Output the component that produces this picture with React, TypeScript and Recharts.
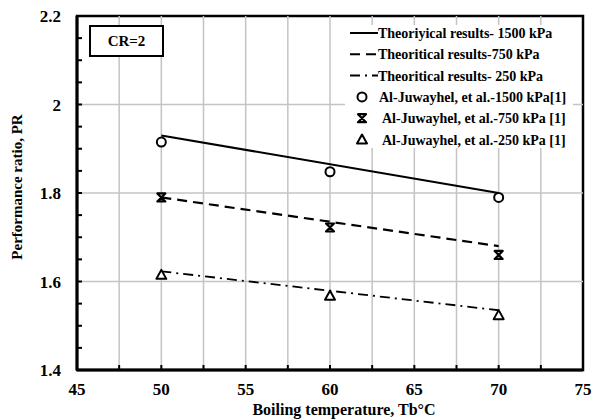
import React from "react";
import {
  ComposedChart,
  Line,
  Scatter,
  XAxis,
  YAxis,
  ReferenceLine,
  ReferenceArea,
  Label,
} from "recharts";

const FONT = '"Liberation Serif", "Times New Roman", serif';

// axis ticks (minor ticks carry no label)
const tempTicks = [45, 47.5, 50, 52.5, 55, 57.5, 60, 62.5, 65, 67.5, 70, 72.5, 75];
const prTicks = [
  1.4, 1.45, 1.5, 1.55, 1.6, 1.65, 1.7, 1.75, 1.8, 1.85, 1.9, 1.95, 2.0, 2.05, 2.1, 2.15, 2.2,
];
const prGrid = [1.6, 1.8, 2.0];

// theoretical model
const theoryTemps = [50, 70];
const theory1500 = [1.93, 1.8];
const theory750 = [1.79, 1.68];
const theory250 = [1.623, 1.535];

// Al-Juwayhel et al. data
const refTemps = [50, 60, 70];
const juwayhel1500 = [1.915, 1.848, 1.79];
const juwayhel750 = [1.79, 1.722, 1.66];
const juwayhel250 = [1.615, 1.568, 1.524];

const legendNames = [
  "Theoriyical results- 1500 kPa",
  "Theoritical results-750 kPa",
  "Theoritical results- 250 kPa",
  "Al-Juwayhel, et al.-1500 kPa[1]",
  "Al-Juwayhel, et al.-750 kPa [1]",
  "Al-Juwayhel, et al.-250 kPa [1]",
];

const toPoints = (xs: number[], ys: number[]) => xs.map((t, i) => ({ t, pr: ys[i] }));

const DASH = "10 6";
const DASH_DOT = "10 5 2 5";
const TICK_GAP = 6;
const GRID = "#c4c4c4";

const CircleMark = ({ cx, cy }: any) => (
  <circle cx={cx} cy={cy} r={4.5} fill="#fff" stroke="#000" strokeWidth={2} />
);

const HourglassMark = ({ cx, cy }: any) => (
  <path
    d={`M${cx - 4},${cy - 4} L${cx + 4},${cy - 4} L${cx - 4},${cy + 4} L${cx + 4},${cy + 4} Z`}
    fill="none"
    stroke="#000"
    strokeWidth={2.2}
    strokeLinejoin="round"
  />
);

const TriangleMark = ({ cx, cy }: any) => (
  <path
    d={`M${cx},${cy - 5} L${cx + 5},${cy + 4} L${cx - 5},${cy + 4} Z`}
    fill="#fff"
    stroke="#000"
    strokeWidth={2}
    strokeLinejoin="round"
  />
);

const XTick = (props: any) => {
  const { x, y, payload } = props;
  const base = y - TICK_GAP;
  const major = payload.value % 5 === 0;
  return (
    <g>
      <line x1={x} x2={x} y1={base} y2={base - 5} stroke="#000" strokeWidth={2} />
      {major && (
        <text
          x={x}
          y={base + 25}
          textAnchor="middle"
          fontFamily={FONT}
          fontWeight="bold"
          fontSize={17}
          fill="#000"
        >
          {payload.value}
        </text>
      )}
    </g>
  );
};

const YTick = (props: any) => {
  const { x, y, payload } = props;
  const base = x + TICK_GAP;
  const v = payload.value;
  const major = Math.abs(v * 5 - Math.round(v * 5)) < 1e-6;
  return (
    <g>
      <line x1={base} x2={base + 5} y1={y} y2={y} stroke="#000" strokeWidth={2} />
      {major && (
        <text
          x={base - 16}
          y={y + 6}
          textAnchor="end"
          fontFamily={FONT}
          fontWeight="bold"
          fontSize={17}
          fill="#000"
        >
          {String(Number(v.toFixed(1)))}
        </text>
      )}
    </g>
  );
};

const legendSamples = [
  { kind: "line", dash: undefined },
  { kind: "line", dash: DASH },
  { kind: "line", dash: DASH_DOT },
  { kind: "mark", Mark: CircleMark, textX: 34 },
  { kind: "mark", Mark: HourglassMark, textX: 37 },
  { kind: "mark", Mark: TriangleMark, textX: 37 },
];

// legend sits on an opaque panel so the grid does not run through it
const LegendPanel = () => (
  <div style={{ position: "absolute", left: 345, top: 25, width: 228, height: 123, background: "#fff" }}>
    <svg width={228} height={123} style={{ display: "block" }}>
      {legendNames.map((name, i) => {
        const s: any = legendSamples[i];
        const cy = 8 + i * 21.3;
        return (
          <g key={name}>
            {s.kind === "line" ? (
              <line x1={5} x2={33} y1={cy} y2={cy} stroke="#000" strokeWidth={2} strokeDasharray={s.dash} />
            ) : (
              <s.Mark cx={17} cy={cy} />
            )}
            <text
              x={s.kind === "line" ? 33 : s.textX}
              y={cy + 5}
              fontFamily={FONT}
              fontWeight="bold"
              fontSize={14}
              fill="#000"
            >
              {name}
            </text>
          </g>
        );
      })}
    </svg>
  </div>
);

const CaseTag = () => (
  <div style={{ position: "absolute", left: 89, top: 25, width: 75, height: 32 }}>
    <svg width={75} height={32} style={{ display: "block" }}>
      <rect x={1} y={1} width={73} height={30} fill="#fff" stroke="#000" strokeWidth={2} />
      <text x={37.5} y={21} textAnchor="middle" fontFamily={FONT} fontWeight="bold" fontSize={15} fill="#000">
        CR=2
      </text>
    </svg>
  </div>
);

export default function App() {
  return (
    <div style={{ position: "absolute", left: 0, top: 0, width: 592, height: 419, background: "#fff" }}>
      <ComposedChart width={592} height={419} margin={{ top: 16, right: 9, bottom: 0, left: 0 }}>
        <XAxis
          dataKey="t"
          type="number"
          domain={[45, 75]}
          ticks={tempTicks}
          interval={0}
          height={49}
          tickSize={0}
          tickMargin={TICK_GAP}
          tick={<XTick />}
          axisLine={{ stroke: "#000", strokeWidth: 3 }}
          allowDataOverflow
        >
          <Label
            content={({ viewBox }: any) => (
              <text
                x={viewBox.x + viewBox.width / 2 + 14}
                y={viewBox.y + 45}
                textAnchor="middle"
                fontFamily={FONT}
                fontWeight="bold"
                fontSize={16}
                fill="#000"
              >
                Boiling temperature, Tb°C
              </text>
            )}
          />
        </XAxis>
        <YAxis
          dataKey="pr"
          type="number"
          domain={[1.4, 2.2]}
          ticks={prTicks}
          interval={0}
          width={77}
          tickSize={0}
          tickMargin={TICK_GAP}
          tick={<YTick />}
          axisLine={{ stroke: "#000", strokeWidth: 3 }}
          allowDataOverflow
        >
          <Label
            content={({ viewBox }: any) => {
              const cx = 17;
              const cy = viewBox.y + viewBox.height / 2 - 6;
              return (
                <text
                  x={cx}
                  y={cy}
                  transform={`rotate(-90 ${cx} ${cy})`}
                  textAnchor="middle"
                  dominantBaseline="central"
                  fontFamily={FONT}
                  fontWeight="bold"
                  fontSize={15}
                  fill="#000"
                >
                  Performance ratio, PR
                </text>
              );
            }}
          />
        </YAxis>
        {tempTicks.slice(1, -1).map((t) => (
          <ReferenceLine key={`gx${t}`} x={t} stroke={GRID} strokeWidth={1.5} />
        ))}
        {prGrid.map((v) => (
          <ReferenceLine key={`gy${v}`} y={v} stroke={GRID} strokeWidth={1.5} />
        ))}
        <ReferenceArea
          x1={45}
          x2={75}
          y1={1.4}
          y2={2.2}
          fill="none"
          stroke="#000"
          strokeWidth={2.5}
          fillOpacity={0}
          ifOverflow="visible"
        />
        <Line
          data={toPoints(theoryTemps, theory1500)}
          dataKey="pr"
          stroke="#000"
          strokeWidth={2}
          dot={false}
          isAnimationActive={false}
        />
        <Line
          data={toPoints(theoryTemps, theory750)}
          dataKey="pr"
          stroke="#000"
          strokeWidth={2.2}
          strokeDasharray={DASH}
          dot={false}
          isAnimationActive={false}
        />
        <Line
          data={toPoints(theoryTemps, theory250)}
          dataKey="pr"
          stroke="#000"
          strokeWidth={1.8}
          strokeDasharray={DASH_DOT}
          dot={false}
          isAnimationActive={false}
        />
        <Scatter data={toPoints(refTemps, juwayhel1500)} dataKey="pr" shape={<CircleMark />} isAnimationActive={false} />
        <Scatter data={toPoints(refTemps, juwayhel750)} dataKey="pr" shape={<HourglassMark />} isAnimationActive={false} />
        <Scatter data={toPoints(refTemps, juwayhel250)} dataKey="pr" shape={<TriangleMark />} isAnimationActive={false} />
      </ComposedChart>
      <LegendPanel />
      <CaseTag />
    </div>
  );
}
